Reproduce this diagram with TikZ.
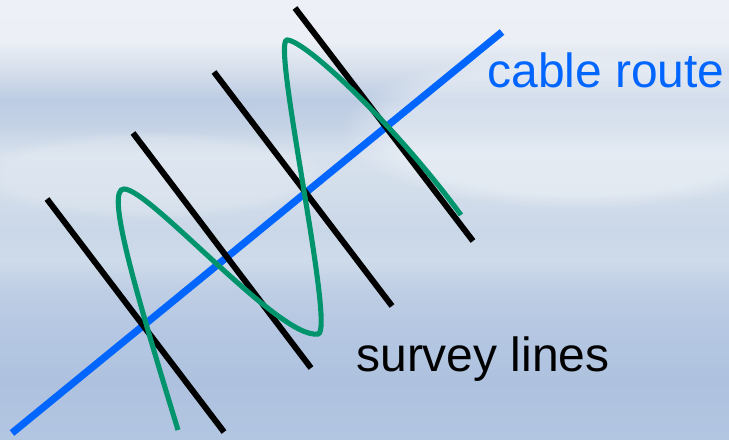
\documentclass[tikz,border=0pt]{standalone}
\usepackage{fontspec}
\setmainfont{Liberation Sans}
\usetikzlibrary{positioning,fadings}

\definecolor{routeblue}{RGB}{0,102,255}
\definecolor{trackgreen}{RGB}{0,148,108}
\definecolor{skyA}{RGB}{237,240,246}
\definecolor{skyB}{RGB}{236,240,246}
\definecolor{skyC}{RGB}{210,220,234}
\definecolor{skyD}{RGB}{188,204,227}
\definecolor{skyE}{RGB}{196,210,229}
\definecolor{skyF}{RGB}{215,225,237}
\definecolor{skyG}{RGB}{211,222,235}
\definecolor{skyH}{RGB}{202,215,232}
\definecolor{skyI}{RGB}{206,219,234}
\definecolor{skyJ}{RGB}{190,206,228}
\definecolor{skyK}{RGB}{181,199,226}
\definecolor{skyL}{RGB}{174,194,223}
\definecolor{skyM}{RGB}{178,197,225}

\pgfdeclareverticalshading{skyshade}{100bp}{
  color(0bp)=(skyM); color(25bp)=(skyM); color(31.72bp)=(skyL);
  color(37.41bp)=(skyK); color(41.97bp)=(skyJ); color(45.39bp)=(skyI);
  color(48.80bp)=(skyH); color(53.36bp)=(skyG); color(57.35bp)=(skyF);
  color(60.76bp)=(skyE); color(63.61bp)=(skyD); color(66.46bp)=(skyC);
  color(70.44bp)=(skyB); color(75bp)=(skyA); color(100bp)=(skyA)}

\begin{document}
\begin{tikzpicture}[x=0.02cm, y=-0.02cm,
    survey/.style={line width=3.4pt, black},
    every node/.style={font=\fontsize{27.3}{31}\selectfont, inner sep=0pt}]
  % 背景天空
  \useasboundingbox (0,0) rectangle (729,439);
  \shade[shading=skyshade] (0,0) rectangle (729,439);
  \fill[white, opacity=0.35, path fading=circle with fuzzy edge 20 percent]
    (580,130) ellipse (240 and 80);
  \fill[white, opacity=0.18, path fading=circle with fuzzy edge 20 percent]
    (150,175) ellipse (180 and 45);

  % 电缆路由 (蓝线)
  \coordinate (routeA) at (12,433);
  \coordinate (routeB) at (502,32);
  \draw[routeblue, line width=4.1pt] (routeA) -- (routeB);

  % 测线 (黑色平行线)
  \coordinate (s1a) at (47,199);  \coordinate (s1b) at (224,432);
  \coordinate (s2a) at (133,133); \coordinate (s2b) at (311,368);
  \coordinate (s3a) at (214,72);  \coordinate (s3b) at (392,306);
  \coordinate (s4a) at (295,8);   \coordinate (s4b) at (473,241);
  \draw[survey] (s1a) -- (s1b);
  \draw[survey] (s2a) -- (s2b);
  \draw[survey] (s3a) -- (s3b);
  \draw[survey] (s4a) -- (s4b);

  % 实际航迹 (绿色曲线)
  \draw[trackgreen, line width=2.9pt]
    (178,430)
    .. controls (132,280) and (106,189) .. (124,189)
    .. controls (150,189) and (280,340) .. (318,334)
    .. controls (336,332) and (271,40) .. (287,40)
    .. controls (305,40) and (395,125) .. (461,215);

  % 文字标注
  \node[anchor=base west, text=routeblue] (routelbl) at (487,88) {cable route};
  \node[anchor=base west] (surveylbl) at (356,371) {survey lines};
\end{tikzpicture}
\end{document}
